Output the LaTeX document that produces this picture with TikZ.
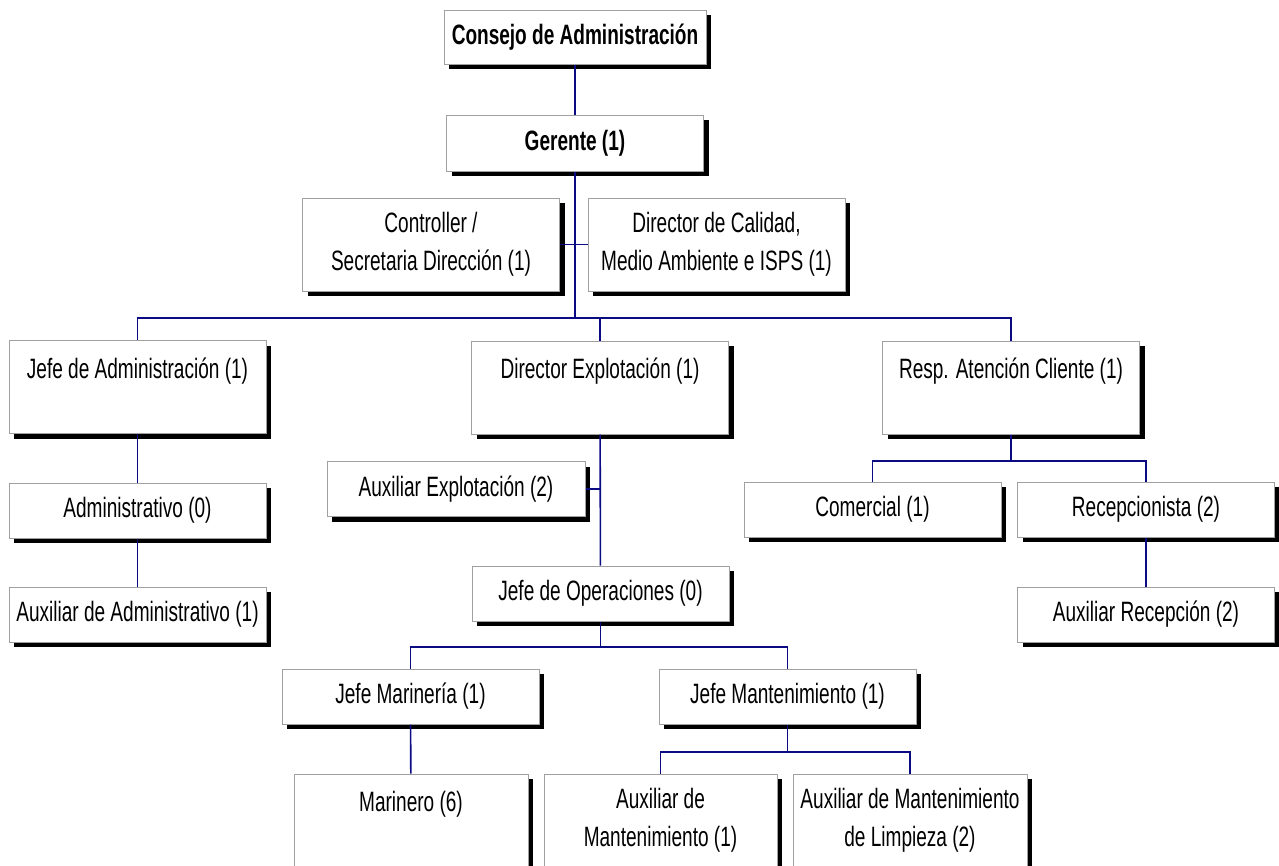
\documentclass[tikz,border=0pt]{standalone}
\usepackage{fontspec}
\setmainfont{Liberation Sans}[FakeStretch=0.68]
\usetikzlibrary{shadows}

\definecolor{linkblue}{RGB}{10,10,130}
\definecolor{edgegray}{RGB}{160,160,160}

\begin{document}
\begin{tikzpicture}[
    x=1pt, y=-1pt,
    box/.style={
        rectangle, draw=edgegray, line width=1pt, fill=white,
        align=center, minimum width=257pt, minimum height=55pt,
        inner sep=0pt, font=\fontsize{28}{38}\selectfont,
        drop shadow={fill=black, opacity=1, shadow xshift=5pt, shadow yshift=-5pt}
    },
    tallbox/.style={box, minimum height=93pt},
    link/.style={draw=linkblue, line width=1.6pt}
]
\useasboundingbox (0,0) rectangle (1279,865);
\clip (0,0) rectangle (1279,865);

\node[box, minimum width=262pt, minimum height=54pt, font=\fontsize{28}{38}\selectfont\bfseries] (consejo) at (575,37) {Consejo de Administración};
\node[box, minimum height=56pt, font=\fontsize{28}{38}\selectfont\bfseries] (gerente) at (575,143) {Gerente (1)};
\node[tallbox] (controller) at (431,244.5) {Controller /\\Secretaria Dirección (1)};
\node[tallbox] (calidad) at (716.5,244.5) {Director de Calidad,\\Medio Ambiente e ISPS (1)};
\node[tallbox] (jefeadm) at (137.5,387) {Jefe de Administración (1)\\\mbox{}};
\node[tallbox] (direxp) at (600,387.5) {Director Explotación (1)\\\mbox{}};
\node[tallbox] (resp) at (1011,387.5) {Resp. Atención Cliente (1)\\\mbox{}};
\node[box] (administrativo) at (137.5,510.5) {Administrativo (0)};
\node[box] (auxadm) at (137.5,614.5) {Auxiliar de Administrativo (1)};
\node[box, minimum width=258pt] (auxexp) at (456,489) {Auxiliar Explotación (2)};
\node[box] (jefeop) at (600.5,593.5) {Jefe de Operaciones (0)};
\node[box] (comercial) at (872.5,509.5) {Comercial (1)};
\node[box] (recep) at (1146,509.5) {Recepcionista (2)};
\node[box] (auxrec) at (1146,614.5) {Auxiliar Recepción (2)};
\node[box] (jefemar) at (410.5,696.5) {Jefe Marinería (1)};
\node[box] (jefemant) at (787.5,696.5) {Jefe Mantenimiento (1)};
\node[tallbox, minimum width=234pt] (marinero) at (411,820.5) {Marinero (6)\\\mbox{}};
\node[tallbox, minimum width=233pt] (auxmant) at (660.5,820.5) {Auxiliar de\\Mantenimiento (1)};
\node[tallbox, minimum width=234pt] (auxlimp) at (910,820.5) {Auxiliar de Mantenimiento\\de Limpieza (2)};

% bus points
\coordinate (bus1) at (575,318);
\coordinate (bus2) at (1011,461);
\coordinate (bus3) at (600.5,647);
\coordinate (bus4) at (787.5,752);

\draw[link] (consejo) -- (gerente);
\draw[link] (gerente) -- (bus1);
\draw[link] (controller.east) -- (controller.east -| gerente);
\draw[link] (calidad.west) -- (calidad.west -| gerente);
\draw[link] (jefeadm.north) |- (bus1) -| (resp.north);
\draw[link] (direxp.north) -- (direxp.north |- bus1);
\draw[link] (jefeadm) -- (administrativo);
\draw[link] (administrativo) -- (auxadm);
\draw[link] (direxp) -- (jefeop);
\draw[link] (auxexp.east) -- (auxexp.east -| direxp);
\draw[link] (resp) -- (bus2);
\draw[link] (comercial.north) |- (bus2) -| (recep.north);
\draw[link] (recep) -- (auxrec);
\draw[link] (jefeop) -- (bus3);
\draw[link] (jefemar.north) |- (bus3) -| (jefemant.north);
\draw[link] (jefemar) -- (marinero);
\draw[link] (jefemant) -- (bus4);
\draw[link] (auxmant.north) |- (bus4) -| (auxlimp.north);
\end{tikzpicture}
\end{document}
